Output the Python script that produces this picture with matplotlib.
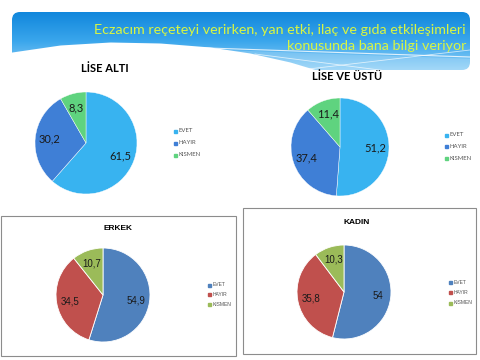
import numpy as np
import matplotlib
matplotlib.use("Agg")
import matplotlib.pyplot as plt
from matplotlib.patches import FancyBboxPatch, Rectangle

# veriler
kategoriler = ["EVET", "HAYIR", "KISMEN"]
lise_alti = [61.5, 30.2, 8.3]
lise_ustu = [51.2, 37.4, 11.4]
erkek = [54.9, 34.5, 10.7]
kadin = [54, 35.8, 10.3]

baslik = ["Eczacım reçeteyi verirken, yan etki, ilaç ve gıda etkileşimleri",
          "konusunda bana bilgi veriyor"]

renk_ust = ["#38b3f0", "#3f7fd6", "#5fd37f"]
renk_alt = ["#4f81bd", "#c0504d", "#9bbb59"]

W, H = 480, 360
fig = plt.figure(figsize=(4.8, 3.6), dpi=100)
fig.patch.set_facecolor("white")

# arka plan katmani (piksel koordinatlari)
bg = fig.add_axes([0, 0, 1, 1])
bg.set_xlim(0, W)
bg.set_ylim(H, 0)
bg.axis("off")

# banner
kutu = FancyBboxPatch((12, 12), 458, 58, boxstyle="round,pad=0,rounding_size=8",
                      linewidth=0, facecolor="none")
bg.add_patch(kutu)
grad = np.linspace(0, 1, 100).reshape(-1, 1)
cmap = matplotlib.colors.LinearSegmentedColormap.from_list("b", ["#1187dc", "#3aa6ec", "#8fd0f7"])
im = bg.imshow(grad, extent=(12, 470, 70, 12), cmap=cmap, aspect="auto", zorder=1)
im.set_clip_path(kutu)

# beyaz dalga
kx = [0, 12, 60, 110, 160, 210, 250, 290, 330, 360]
ky = [54, 52, 45, 42, 43, 47, 53, 62, 74, 82]
xs = np.linspace(0, 360, 200)
ust = np.interp(xs, kx, ky)
bg.fill_between(xs, ust, 90, color="white", zorder=2, linewidth=0)
bx = np.linspace(150, 470, 100)
bg.fill_between(bx, 47 + (bx - 150) * 0.035, 70, color="white", alpha=0.18, zorder=2, linewidth=0)
bg.plot([150, 470], [46, 57], color="white", lw=0.8, alpha=0.8, zorder=2)
bg.plot([300, 470], [70, 50], color="white", lw=0.6, alpha=0.7, zorder=2)
bg.plot([255, 395], [54, 72], color="white", lw=0.6, alpha=0.7, zorder=2)

for i, satir in enumerate(baslik):
    bg.text(466, 30 + i * 16, satir, ha="right", va="center", fontsize=10.3,
            family="Lato", color="#d8f542", zorder=3)

# alt kutular
bg.add_patch(Rectangle((1, 216), 235, 140, facecolor="white", edgecolor="#8c8c8c", lw=0.8, zorder=1))
bg.add_patch(Rectangle((243, 208), 233, 146, facecolor="white", edgecolor="#8c8c8c", lw=0.8, zorder=1))


def pasta(veri, renkler, cx, cy, r, yazi_boy, font, kenar):
    ax = fig.add_axes([(cx - r) / W, 1 - (cy + r) / H, 2 * r / W, 2 * r / H])
    etiket = iter([str(v).replace(".", ",") for v in veri])
    ax.pie(veri, colors=renkler, startangle=90, counterclock=False,
           autopct=lambda p: next(etiket), pctdistance=0.72,
           wedgeprops=dict(edgecolor="white", linewidth=kenar),
           textprops=dict(fontsize=yazi_boy, family=font, color="#1a1a1a"))
    ax.set_xlim(-1, 1)
    ax.set_ylim(-1, 1)
    ax.set_aspect("equal")
    return ax


def lejant(renkler, x, y, dy, boy, font):
    for i, (k, c) in enumerate(zip(kategoriler, renkler)):
        bg.add_patch(Rectangle((x, y + i * dy - 1.5), 3, 3, color=c, zorder=3))
        bg.text(x + 4.5, y + i * dy, k, fontsize=boy, family=font, color="#555555",
                va="center", ha="left", zorder=3)


pasta(lise_alti, renk_ust, 86, 143, 51, 8, "Lato", 0.3)
pasta(lise_ustu, renk_ust, 340, 147, 49, 8, "Lato", 0.3)
pasta(erkek, renk_alt, 103, 295, 47, 7, "Liberation Sans", 0.6)
pasta(kadin, renk_alt, 344, 292, 47, 7, "Liberation Sans", 0.6)

bg.text(105, 69, "LİSE ALTI", ha="center", va="center", fontsize=8, weight="bold", family="Lato", zorder=3)
bg.text(347, 76, "LİSE VE ÜSTÜ", ha="center", va="center", fontsize=8, weight="bold", family="Lato", zorder=3)
bg.text(118, 228, "ERKEK", ha="center", va="center", fontsize=6, weight="bold", family="Liberation Sans", zorder=3)
bg.text(357, 223, "KADIN", ha="center", va="center", fontsize=6, weight="bold", family="Liberation Sans", zorder=3)

lejant(renk_ust, 174, 131, 12, 4.3, "Lato")
lejant(renk_ust, 445, 135, 11.5, 4.3, "Lato")
lejant(renk_alt, 208, 285, 9.5, 3.6, "Liberation Sans")
lejant(renk_alt, 449, 282, 10.5, 3.6, "Liberation Sans")

fig.savefig("out.png", dpi=100)
